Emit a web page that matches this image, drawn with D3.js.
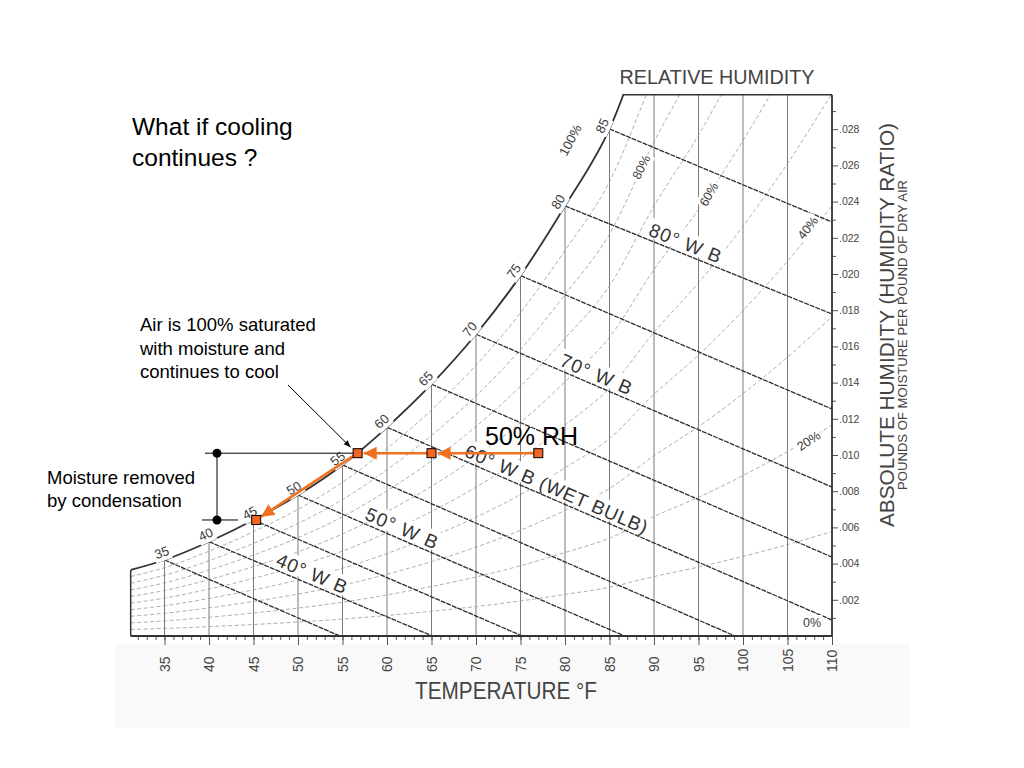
<!DOCTYPE html>
<html><head><meta charset="utf-8">
<script src="https://cdn.jsdelivr.net/npm/d3@7"></script>
<style>body{margin:0;background:#fff;} svg{display:block;}</style>
</head><body><svg id="c" width="1024" height="768"></svg>
<script>
// ---------- data ----------
const tempTicks = [35,40,45,50,55,60,65,70,75,80,85,90,95,100,105,110];
const wTicks = [0.002,0.004,0.006,0.008,0.010,0.012,0.014,0.016,0.018,0.020,0.022,0.024,0.026,0.028];
// saturation (100% RH) curve as drawn on the chart
const satTemps = [31.2,35,40,45,50,55,60,65,70,75,80,85,90,95,100,105,110];
const satW     = [0.00365,0.0042,0.00521,0.00641,0.00779,0.00945,0.01153,0.01391,0.01667,0.01991,0.02376,0.02801,0.0345,0.0403,0.0470,0.0545,0.0630];
const satLabelTemps = [35,40,45,50,55,60,65,70,75,80,85];
const rhLevels = [0.1,0.2,0.3,0.4,0.5,0.6,0.7,0.8,0.9];
const rhLabels = ["80%","60%","40%","20%","0%"];
// wet bulb lines: start on saturation curve, end on bottom or right edge
const wbTemps = [35,40,45,50,55,60,65,70,75,80,85];
const wbEndT  = [54.7,65.1,75.2,86.7,99.1,110,110,110,110,110,110];
const wbEndW  = [0,0,0,0,0,0.00088,0.00436,0.00823,0.01254,0.01779,0.02287];
const wbLabelTemps = [80,70,60,50,40];
const wbLabelText  = ["80° W B","70° W B","60° W B (WET BULB)","50° W B","40° W B"];
// cooling process
const processT = [77,65,56.7,45.3];
const processW = [0.0101,0.0101,0.0101,0.00641];

// ---------- scales ----------
const svg = d3.select("#c");
const x = d3.scaleLinear().domain([35,110]).range([164.5,832]);
const y = d3.scaleLinear().domain([0,0.030]).range([636,93]);
const leftT = 31.2, topW = 0.0299;
const X0 = x(leftT), X1 = x(110), Y0 = y(0), Y1 = y(topW);
const sans = "'Liberation Sans', Arial, Helvetica, sans-serif";
const ink = "#3a3a3a";

svg.append("rect").attr("width",1024).attr("height",768).attr("fill","#fff");
// faint scan smudge under the axis
svg.append("rect").attr("x",115).attr("y",644).attr("width",795).attr("height",84).attr("fill","#f9f9f9");

const defs = svg.append("defs");
defs.append("clipPath").attr("id","plot").append("rect")
  .attr("x",X0).attr("y",Y1).attr("width",X1-X0).attr("height",Y0-Y1);
defs.append("marker").attr("id","arrO").attr("viewBox","0 0 10 10").attr("refX",10).attr("refY",5)
  .attr("markerWidth",5).attr("markerHeight",5).attr("orient","auto")
  .append("path").attr("d","M0,0L10,5L0,10z").attr("fill","#f07020");
defs.append("marker").attr("id","arrK").attr("viewBox","0 0 10 10").attr("refX",10).attr("refY",5)
  .attr("markerWidth",7).attr("markerHeight",7).attr("orient","auto")
  .append("path").attr("d","M0,1L10,5L0,9z").attr("fill","#000");

const satAt = T => satW[satTemps.indexOf(T)];
const plot = svg.append("g").attr("clip-path","url(#plot)");

// vertical temperature lines
tempTicks.filter(t => t < 110).forEach(t => {
  const top = satTemps.indexOf(t) >= 0 ? Math.min(satAt(t), topW) : topW;
  plot.append("line").attr("x1",x(t)).attr("x2",x(t)).attr("y1",Y0).attr("y2",y(top))
    .attr("stroke","#7a7a7a").attr("stroke-width",1);
});

// relative humidity curves (fraction of saturation vapour pressure)
const rhW = (phi, ws) => { const r = ws/(0.622+ws); return 0.622*phi*r/(1-phi*r); };
const lineTW = d3.line().x(d => x(d[0])).y(d => y(d[1])).curve(d3.curveMonotoneX);
rhLevels.forEach(phi => {
  const pts = satTemps.map((t,i) => [t, rhW(phi, satW[i])]);
  plot.append("path").attr("d", lineTW(pts)).attr("fill","none")
    .attr("stroke","#9a9a9a").attr("stroke-width",0.8).attr("stroke-dasharray","4,2.5");
});

// wet bulb lines
wbTemps.forEach((t,i) => {
  plot.append("line").attr("x1",x(t)).attr("y1",y(satAt(t))).attr("x2",x(wbEndT[i])).attr("y2",y(wbEndW[i]))
    .attr("stroke","#2e2e2e").attr("stroke-width",1.3).attr("stroke-dasharray","5,1");
});

// saturation curve
plot.append("path").attr("d", lineTW(satTemps.map((t,i)=>[t,satW[i]])))
  .attr("fill","none").attr("stroke","#333").attr("stroke-width",1.8);

// frame: top border, left edge, axes
const i85 = satTemps.indexOf(85);
const topT = 85 + (topW - satW[i85]) / (satW[i85+1] - satW[i85]) * 5;
svg.append("line").attr("x1",x(topT)).attr("x2",X1).attr("y1",Y1).attr("y2",Y1).attr("stroke","#333").attr("stroke-width",1.5);
svg.append("line").attr("x1",X0).attr("x2",X0).attr("y1",y(satW[0])).attr("y2",Y0).attr("stroke","#333").attr("stroke-width",1.5);

// bottom axis
const gx = svg.append("g").attr("transform",`translate(0,${Y0})`);
gx.call(d3.axisBottom(x).tickValues(d3.range(32,111,1)).tickSize(4).tickFormat(""));
gx.call(g => g.select(".domain").remove());
const gx2 = svg.append("g").attr("transform",`translate(0,${Y0})`);
gx2.call(d3.axisBottom(x).tickValues(tempTicks).tickSize(9).tickFormat(d3.format("d")));
gx2.select(".domain").remove();
gx2.selectAll(".tick text").attr("transform","rotate(-90)").attr("x",-36).attr("y",0).attr("dy","0.35em")
  .attr("text-anchor","start").attr("font-size",14).attr("font-family",sans).attr("fill","#444");
svg.append("line").attr("x1",X0).attr("x2",X1).attr("y1",Y0).attr("y2",Y0).attr("stroke","#333").attr("stroke-width",1.8);

// right axis
const gy = svg.append("g").attr("transform",`translate(${X1},0)`);
gy.call(d3.axisRight(y).tickValues(d3.range(0.001,0.0295,0.002)).tickSize(4).tickFormat(""));
gy.select(".domain").remove();
const gy2 = svg.append("g").attr("transform",`translate(${X1},0)`);
gy2.call(d3.axisRight(y).tickValues(wTicks).tickSize(6).tickPadding(1).tickFormat(d => d3.format(".3f")(d).replace(/^0/,"")));
gy2.select(".domain").remove();
gy2.selectAll(".tick text").attr("font-size",10.5).attr("font-family",sans).attr("fill","#444");
svg.selectAll(".tick line").attr("stroke","#555");
svg.append("line").attr("x1",X1).attr("x2",X1).attr("y1",Y1).attr("y2",Y0).attr("stroke","#333").attr("stroke-width",1.8);

// helper for labels with white background
function bgLabel(txt, cx, cy, angle, size, opt={}) {
  const g = svg.append("g").attr("transform",`translate(${cx},${cy}) rotate(${angle})`);
  const t = g.append("text").text(txt).attr("font-size",size).attr("font-family",sans)
    .attr("fill",opt.fill||ink).attr("text-anchor",opt.anchor||"middle")
    .attr("dominant-baseline",opt.baseline||"central");
  if (opt.len) t.attr("textLength",opt.len).attr("lengthAdjust","spacing");
  const bb = t.node().getBBox();
  const yb = opt.bgBottom !== undefined ? opt.bgBottom : bb.y+bb.height+1;
  g.insert("rect","text").attr("x",bb.x-1.5).attr("y",bb.y-1).attr("width",bb.width+3).attr("height",yb-bb.y+1).attr("fill","#fff");
  return g;
}

// saturation temperature labels along the curve
satLabelTemps.forEach(t => {
  const i = satTemps.indexOf(t);
  const p0 = [x(satTemps[i-1]), y(satW[i-1])], p1 = [x(satTemps[i+1]), y(satW[i+1])];
  const a = Math.atan2(p1[1]-p0[1], p1[0]-p0[0]);
  const cx = x(t) + Math.sin(a)*8, cy = y(satW[i]) - Math.cos(a)*8;
  bgLabel(String(t), cx, cy, a*180/Math.PI, 13);
});
bgLabel("100%", x(80.6), y(0.0274), -62, 13);

// RH labels
const rhLabelPos = [[88.6,0.0259,-63],[96.2,0.0244,-60],[107.3,0.02254,-52],[107.4,0.01077,-33],[107.75,0.00072,0]];
rhLabels.forEach((s,i) => bgLabel(s, x(rhLabelPos[i][0]), y(rhLabelPos[i][1]), rhLabelPos[i][2], 12.5));

// wet bulb labels
const wbLabelStart = [89.1,79.1,68.4,57.2,47.2];
const wbLabelLen = [76,76,197,77,75];
wbLabelTemps.forEach((t,k) => {
  const i = wbTemps.indexOf(t);
  const xa = x(t), ya = y(satAt(t)), xb = x(wbEndT[i]), yb = y(wbEndW[i]);
  const a = Math.atan2(yb-ya, xb-xa);
  const xs = x(wbLabelStart[k]);
  const ys = ya + (xs-xa)*Math.tan(a);
  const off = 4;
  bgLabel(wbLabelText[k], xs + Math.sin(a)*off, ys - Math.cos(a)*off, a*180/Math.PI, 19,
    {anchor:"start", baseline:"alphabetic", len:wbLabelLen[k], bgBottom:1.5, fill:"#333"});
});

// axis titles
svg.append("text").text("RELATIVE HUMIDITY").attr("x",717).attr("y",77).attr("text-anchor","middle")
  .attr("dominant-baseline","central").attr("font-size",20).attr("font-family",sans).attr("fill","#444")
  .attr("textLength",195).attr("lengthAdjust","spacingAndGlyphs");
svg.append("text").text("TEMPERATURE  °F").attr("x",506).attr("y",691).attr("text-anchor","middle")
  .attr("dominant-baseline","central").attr("font-size",23).attr("font-family",sans).attr("fill","#444")
  .attr("textLength",182).attr("lengthAdjust","spacingAndGlyphs");
svg.append("text").text("ABSOLUTE HUMIDITY  (HUMIDITY RATIO)").attr("transform","translate(886,325) rotate(-90)")
  .attr("text-anchor","middle").attr("dominant-baseline","central").attr("font-size",21).attr("font-family",sans)
  .attr("fill","#444").attr("textLength",404).attr("lengthAdjust","spacingAndGlyphs");
svg.append("text").text("POUNDS OF MOISTURE PER POUND OF DRY AIR").attr("transform","translate(903,335) rotate(-90)")
  .attr("text-anchor","middle").attr("dominant-baseline","central").attr("font-size",12).attr("font-family",sans)
  .attr("fill","#444").attr("textLength",310).attr("lengthAdjust","spacingAndGlyphs");

// ---------- annotations ----------
const ann = svg.append("g").attr("font-family",sans).attr("fill","#000");
ann.append("text").attr("x",132).attr("y",135).attr("font-size",24.5).text("What if cooling");
ann.append("text").attr("x",132).attr("y",166).attr("font-size",24.5).text("continues ?");
[["Air is 100% saturated",331],["with moisture and",355],["continues to cool",378]].forEach(d =>
  ann.append("text").attr("x",140).attr("y",d[1]).attr("font-size",18.5).text(d[0]));
[["Moisture removed",484],["by condensation",507]].forEach(d =>
  ann.append("text").attr("x",47).attr("y",d[1]).attr("font-size",18.5).text(d[0]));
ann.append("text").attr("x",485).attr("y",445).attr("font-size",25).text("50% RH");

// pointer arrow
const dew = [x(processT[2]), y(processW[2])];
svg.append("line").attr("x1",288).attr("y1",385).attr("x2",dew[0]-7).attr("y2",dew[1]-6)
  .attr("stroke","#000").attr("stroke-width",1).attr("marker-end","url(#arrK)");

// condensation bracket
const yTop = y(processW[2]), yBot = y(processW[3]);
const br = svg.append("g").attr("stroke","#000").attr("stroke-width",1);
br.append("line").attr("x1",205).attr("x2",dew[0]).attr("y1",yTop).attr("y2",yTop);
br.append("line").attr("x1",202).attr("x2",238).attr("y1",yBot).attr("y2",yBot);
br.append("line").attr("x1",217).attr("x2",217).attr("y1",yTop).attr("y2",yBot);
svg.append("circle").attr("cx",217).attr("cy",yTop).attr("r",4.5).attr("fill","#000");
svg.append("circle").attr("cx",217).attr("cy",yBot).attr("r",4.5).attr("fill","#000");

// process path
const pp = processT.map((t,i) => [x(t), y(processW[i])]);
for (let i=0;i<pp.length-1;i++) {
  const a = pp[i], b = pp[i+1];
  const dx = b[0]-a[0], dy = b[1]-a[1], L = Math.hypot(dx,dy);
  const s = 6/L;
  svg.append("line").attr("x1",a[0]).attr("y1",a[1]).attr("x2",b[0]-dx*s).attr("y2",b[1]-dy*s)
    .attr("stroke","#f07020").attr("stroke-width",2.6).attr("marker-end","url(#arrO)");
}
svg.selectAll("rect.pt").data(pp).enter().append("rect").attr("class","pt")
  .attr("x",d=>d[0]-4.5).attr("y",d=>d[1]-4.5).attr("width",9).attr("height",9)
  .attr("fill","#f26522").attr("stroke","#000").attr("stroke-width",1);
</script></body></html>
